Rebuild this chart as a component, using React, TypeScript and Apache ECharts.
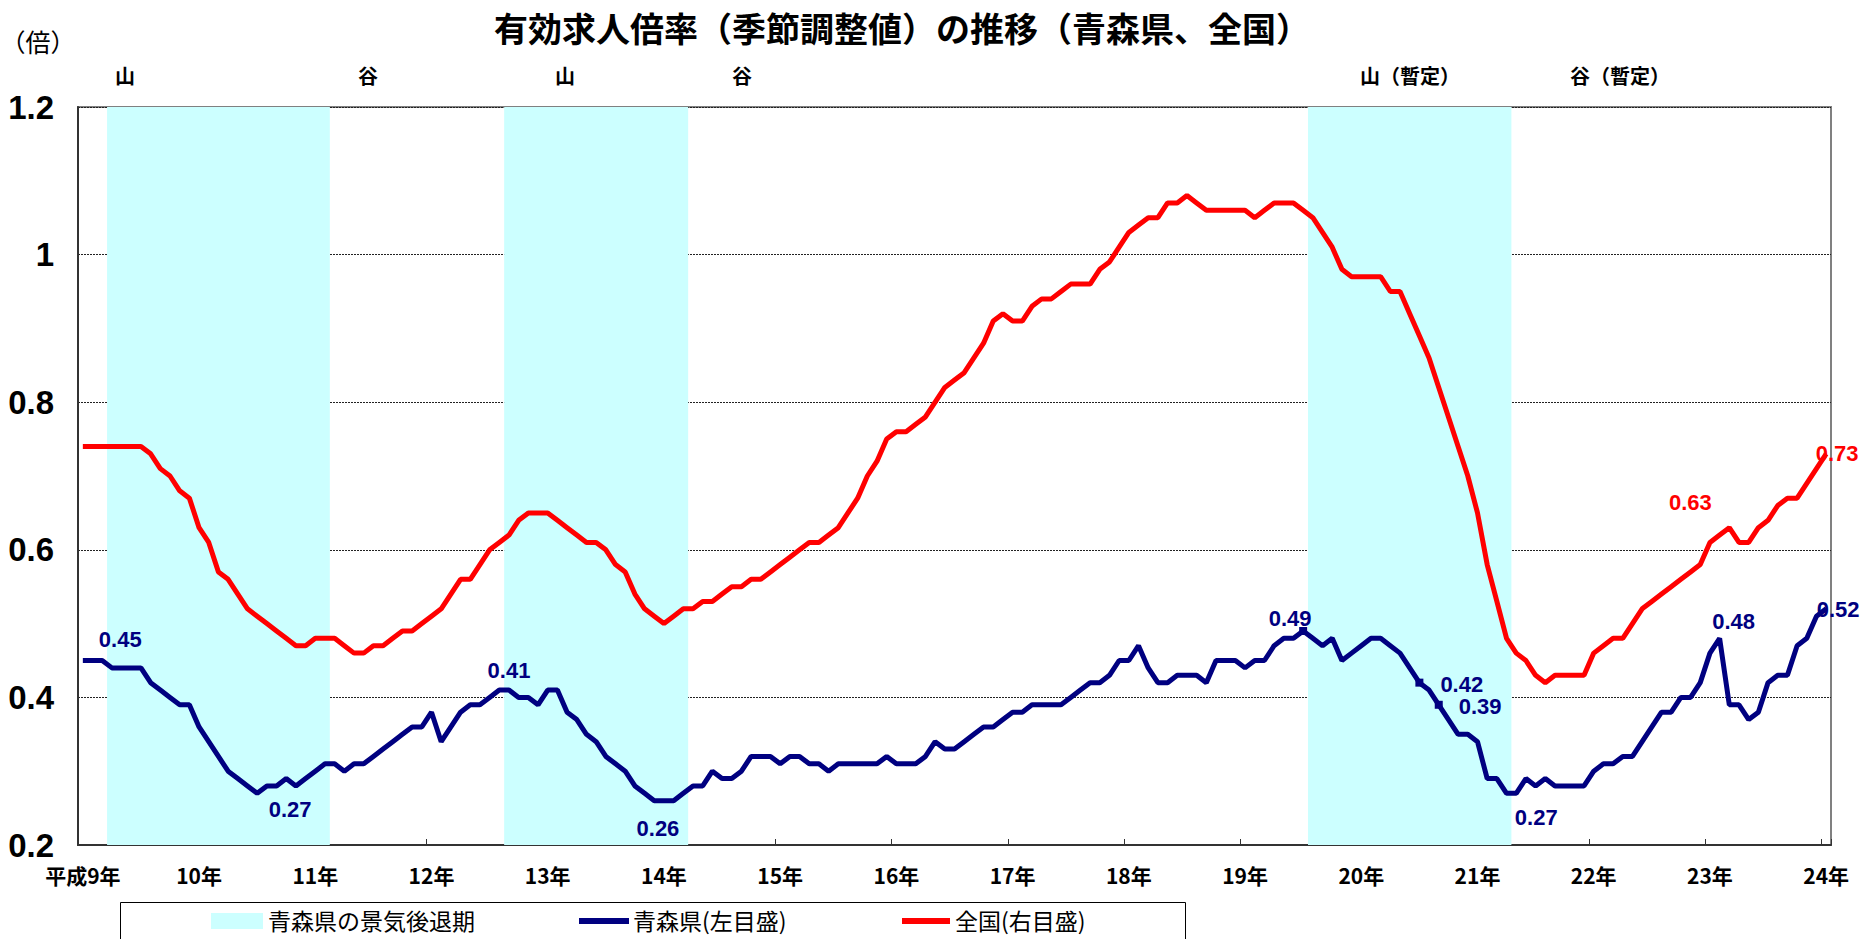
import React, { useEffect, useRef } from 'react';
import * as echarts from 'echarts';

// ---------------- data ----------------
const yearLabels = ['平成9年', '10年', '11年', '12年', '13年', '14年', '15年', '16年', '17年', '18年', '19年', '20年', '21年', '22年', '23年', '24年'];

// 青森県 monthly (H9.1 - H24.1)
const aomori = [
  0.45, 0.45, 0.45, 0.44, 0.44, 0.44, 0.44, 0.42, 0.41, 0.40, 0.39, 0.39,
  0.36, 0.34, 0.32, 0.30, 0.29, 0.28, 0.27, 0.28, 0.28, 0.29, 0.28, 0.29,
  0.30, 0.31, 0.31, 0.30, 0.31, 0.31, 0.32, 0.33, 0.34, 0.35, 0.36, 0.36,
  0.38, 0.34, 0.36, 0.38, 0.39, 0.39, 0.40, 0.41, 0.41, 0.40, 0.40, 0.39,
  0.41, 0.41, 0.38, 0.37, 0.35, 0.34, 0.32, 0.31, 0.30, 0.28, 0.27, 0.26,
  0.26, 0.26, 0.27, 0.28, 0.28, 0.30, 0.29, 0.29, 0.30, 0.32, 0.32, 0.32,
  0.31, 0.32, 0.32, 0.31, 0.31, 0.30, 0.31, 0.31, 0.31, 0.31, 0.31, 0.32,
  0.31, 0.31, 0.31, 0.32, 0.34, 0.33, 0.33, 0.34, 0.35, 0.36, 0.36, 0.37,
  0.38, 0.38, 0.39, 0.39, 0.39, 0.39, 0.40, 0.41, 0.42, 0.42, 0.43, 0.45,
  0.45, 0.47, 0.44, 0.42, 0.42, 0.43, 0.43, 0.43, 0.42, 0.45, 0.45, 0.45,
  0.44, 0.45, 0.45, 0.47, 0.48, 0.48, 0.49, 0.48, 0.47, 0.48, 0.45, 0.46,
  0.47, 0.48, 0.48, 0.47, 0.46, 0.44, 0.42, 0.41, 0.39, 0.37, 0.35, 0.35,
  0.34, 0.29, 0.29, 0.27, 0.27, 0.29, 0.28, 0.29, 0.28, 0.28, 0.28, 0.28,
  0.30, 0.31, 0.31, 0.32, 0.32, 0.34, 0.36, 0.38, 0.38, 0.40, 0.40, 0.42,
  0.46, 0.48, 0.39, 0.39, 0.37, 0.38, 0.42, 0.43, 0.43, 0.47, 0.48, 0.51,
  0.52,
];

// 全国 monthly (H9.1 - H24.1)
const national = [
  0.74, 0.74, 0.74, 0.74, 0.74, 0.74, 0.74, 0.73, 0.71, 0.70, 0.68, 0.67,
  0.63, 0.61, 0.57, 0.56, 0.54, 0.52, 0.51, 0.50, 0.49, 0.48, 0.47, 0.47,
  0.48, 0.48, 0.48, 0.47, 0.46, 0.46, 0.47, 0.47, 0.48, 0.49, 0.49, 0.50,
  0.51, 0.52, 0.54, 0.56, 0.56, 0.58, 0.60, 0.61, 0.62, 0.64, 0.65, 0.65,
  0.65, 0.64, 0.63, 0.62, 0.61, 0.61, 0.60, 0.58, 0.57, 0.54, 0.52, 0.51,
  0.50, 0.51, 0.52, 0.52, 0.53, 0.53, 0.54, 0.55, 0.55, 0.56, 0.56, 0.57,
  0.58, 0.59, 0.60, 0.61, 0.61, 0.62, 0.63, 0.65, 0.67, 0.70, 0.72, 0.75,
  0.76, 0.76, 0.77, 0.78, 0.80, 0.82, 0.83, 0.84, 0.86, 0.88, 0.91, 0.92,
  0.91, 0.91, 0.93, 0.94, 0.94, 0.95, 0.96, 0.96, 0.96, 0.98, 0.99, 1.01,
  1.03, 1.04, 1.05, 1.05, 1.07, 1.07, 1.08, 1.07, 1.06, 1.06, 1.06, 1.06,
  1.06, 1.05, 1.06, 1.07, 1.07, 1.07, 1.06, 1.05, 1.03, 1.01, 0.98, 0.97,
  0.97, 0.97, 0.97, 0.95, 0.95, 0.92, 0.89, 0.86, 0.82, 0.78, 0.74, 0.70,
  0.65, 0.58, 0.53, 0.48, 0.46, 0.45, 0.43, 0.42, 0.43, 0.43, 0.43, 0.43,
  0.46, 0.47, 0.48, 0.48, 0.50, 0.52, 0.53, 0.54, 0.55, 0.56, 0.57, 0.58,
  0.61, 0.62, 0.63, 0.61, 0.61, 0.63, 0.64, 0.66, 0.67, 0.67, 0.69, 0.71,
  0.73,
];

// 青森県の景気後退期: first and last month index (inclusive)
const recessionStart = [3, 44, 127];
const recessionEnd = [25, 62, 147];

const phaseLabels = ['山', '谷', '山', '谷', '山（暫定）', '谷（暫定）'];

const TITLE = '有効求人倍率（季節調整値）の推移（青森県、全国）';
const LEGEND_NAMES = ['青森県の景気後退期', '青森県(左目盛)', '全国(右目盛)'];

// ---------------- styles / layout ----------------
const NAVY = '#000080';
const RED = '#FF0000';
const CYAN = '#CCFFFF';
const NUM_FONT = "'Liberation Sans Narrow', 'Liberation Sans', Arial, sans-serif";
const LABEL_FONT = "'Liberation Sans', Arial, sans-serif";
const CJK_FONT = "'Noto Sans CJK JP', 'Noto Sans', sans-serif";
const XLAB_FONT = "'Liberation Sans Narrow', 'Noto Sans CJK JP', sans-serif";

const phaseLabelX = [125, 368, 565, 742, 1410, 1620];

type Lab = { i: number; pos: string; off: number[] };
const aomoriLabels: Lab[] = [
  { i: 2, pos: 'top', off: [18, -5] },
  { i: 18, pos: 'bottom', off: [33, 0] },
  { i: 44, pos: 'top', off: [0, -3] },
  { i: 60, pos: 'bottom', off: [-6, 11] },
  { i: 126, pos: 'top', off: [-13, 8] },
  { i: 138, pos: 'right', off: [12, 2] },
  { i: 140, pos: 'right', off: [11, 2] },
  { i: 148, pos: 'bottom', off: [20, 8] },
  { i: 169, pos: 'top', off: [14, 0] },
  { i: 180, pos: 'right', off: [-15, 1] },
];
const aomoriMarkers = [126, 138, 140];
const nationalLabels: Lab[] = [
  { i: 170, pos: 'top', off: [-39, -9] },
  { i: 180, pos: 'right', off: [-16, 0] },
];

const categories: string[] = aomori.map((_, i) => `${9 + Math.floor(i / 12)}年${(i % 12) + 1}月`);

function buildData(vals: number[], labels: Lab[], markers: number[], color: string) {
  return vals.map((v, i) => {
    const lab = labels.find((l) => l.i === i);
    const mk = markers.includes(i);
    if (!lab && !mk) return v;
    return {
      value: v,
      symbol: mk ? 'rect' : 'circle',
      symbolSize: mk ? 8 : 1,
      itemStyle: { color },
      label: lab
        ? {
            show: true,
            position: lab.pos,
            offset: lab.off,
            distance: 5,
            color,
            fontSize: 22,
            fontWeight: 'bold',
            fontFamily: LABEL_FONT,
          }
        : { show: false },
    };
  });
}

export default function App() {
  const ref = useRef<HTMLDivElement>(null);

  useEffect(() => {
    document.body.style.margin = '0';
    if (!ref.current) return;
    const chart = echarts.init(ref.current, null, { renderer: 'svg' });

    const legendY = 920;
    const legendFont = `23px ${CJK_FONT}`;
    const graphic: any[] = [
      {
        type: 'text',
        x: 902,
        y: 27,
        style: { text: TITLE, fill: '#000', font: `bold 34px ${CJK_FONT}`, align: 'center', verticalAlign: 'middle' },
      },
      {
        type: 'text',
        x: 38,
        y: 41,
        style: { text: '（倍）', fill: '#000', font: `25px ${CJK_FONT}`, align: 'center', verticalAlign: 'middle' },
      },
      ...phaseLabels.map((t, k) => ({
        type: 'text',
        x: phaseLabelX[k],
        y: 75,
        style: { text: t, fill: '#000', font: `bold 20px ${CJK_FONT}`, align: 'center', verticalAlign: 'middle' },
      })),
      // legend
      {
        type: 'rect',
        shape: { x: 120.5, y: 902.5, width: 1065, height: 60 },
        style: { fill: '#fff', stroke: '#000', lineWidth: 1 },
      },
      {
        type: 'rect',
        shape: { x: 211, y: 913, width: 52, height: 16 },
        style: { fill: CYAN },
      },
      {
        type: 'text',
        x: 268,
        y: legendY,
        style: { text: LEGEND_NAMES[0], fill: '#000', font: legendFont, align: 'left', verticalAlign: 'middle' },
      },
      {
        type: 'line',
        shape: { x1: 579, y1: legendY + 1, x2: 629, y2: legendY + 1 },
        style: { stroke: NAVY, lineWidth: 6 },
      },
      {
        type: 'text',
        x: 633,
        y: legendY,
        style: { text: LEGEND_NAMES[1], fill: '#000', font: legendFont, align: 'left', verticalAlign: 'middle' },
      },
      {
        type: 'line',
        shape: { x1: 902, y1: legendY + 1, x2: 950, y2: legendY + 1 },
        style: { stroke: RED, lineWidth: 6 },
      },
      {
        type: 'text',
        x: 955,
        y: legendY,
        style: { text: LEGEND_NAMES[2], fill: '#000', font: legendFont, align: 'left', verticalAlign: 'middle' },
      },
    ];

    const option: any = {
      animation: false,
      backgroundColor: '#fff',
      grid: {
        left: 78,
        right: 30,
        top: 107,
        bottom: 94,
        show: true,
        borderColor: '#808080',
        borderWidth: 2,
        backgroundColor: 'transparent',
      },
      xAxis: {
        type: 'category',
        data: categories,
        boundaryGap: true,
        axisLine: { show: true, lineStyle: { color: '#333', width: 2 } },
        axisTick: { show: true, inside: true, length: 6, interval: 11, lineStyle: { color: '#333', width: 1 } },
        axisLabel: {
          interval: 11,
          formatter: (_v: string, idx: number) => (idx % 12 === 0 ? yearLabels[idx / 12] : ''),
          margin: 19,
          fontSize: 21,
          fontWeight: 'bold',
          color: '#000',
          fontFamily: XLAB_FONT,
        },
        splitLine: { show: false },
      },
      yAxis: {
        type: 'value',
        min: 0.2,
        max: 1.2,
        interval: 0.2,
        axisLine: { show: true, lineStyle: { color: '#333', width: 2 } },
        axisTick: { show: false },
        axisLabel: {
          formatter: (v: number) => String(Math.round(v * 10) / 10),
          margin: 24,
          fontSize: 33,
          fontWeight: 'bold',
          color: '#000',
          fontFamily: NUM_FONT,
        },
        splitLine: { show: true, lineStyle: { color: '#222', width: 1, type: [2, 1] } },
      },
      series: [
        {
          name: LEGEND_NAMES[0],
          type: 'custom',
          silent: true,
          z: 1,
          data: recessionStart.map((s, k) => [s, recessionEnd[k]]),
          renderItem: (_params: any, api: any) => {
            const s = api.value(0);
            const e = api.value(1);
            const band = api.size([1, 0])[0];
            const p0 = api.coord([s, 1.2]);
            const p1 = api.coord([e, 0.2]);
            return {
              type: 'rect',
              shape: { x: p0[0] - band / 2, y: p0[1], width: p1[0] - p0[0] + band, height: p1[1] - p0[1] },
              style: { fill: CYAN },
            };
          },
        },
        {
          name: LEGEND_NAMES[2],
          type: 'line',
          z: 3,
          symbol: 'none',
          showSymbol: true,
          showAllSymbol: true,
          data: buildData(national, nationalLabels, [], RED),
          lineStyle: { color: RED, width: 5 },
          itemStyle: { color: RED },
        },
        {
          name: LEGEND_NAMES[1],
          type: 'line',
          z: 4,
          symbol: 'none',
          showSymbol: true,
          showAllSymbol: true,
          data: buildData(aomori, aomoriLabels, aomoriMarkers, NAVY),
          lineStyle: { color: NAVY, width: 5 },
          itemStyle: { color: NAVY },
        },
      ],
      graphic,
    };

    chart.setOption(option);
    return () => chart.dispose();
  }, []);

  return <div ref={ref} style={{ width: 1861, height: 939 }} />;
}
